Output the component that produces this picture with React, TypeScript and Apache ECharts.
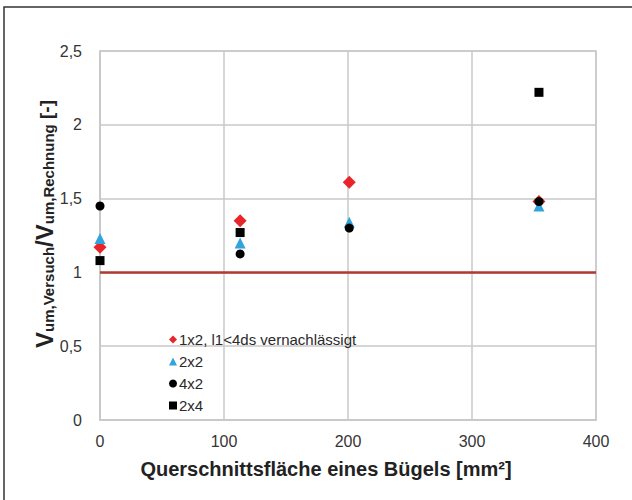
import React, { useEffect, useRef } from "react";
import * as echarts from "echarts";

const seriesNames = ["1x2, l1<4ds vernachlässigt", "2x2", "4x2", "2x4"];
const s1x2: number[][] = [[0, 1.17], [113, 1.35], [201, 1.61], [354, 1.48]];
const s2x2: number[][] = [[0, 1.23], [113, 1.2], [201, 1.34], [354, 1.45]];
const s4x2: number[][] = [[0, 1.45], [113, 1.125], [201, 1.3], [354, 1.48]];
const s2x4: number[][] = [[0, 1.08], [113, 1.27], [354, 2.22]];
const refValue = 1;

const FONT = "'Liberation Sans', Arial, sans-serif";

export default function App() {
  const ref = useRef<HTMLDivElement>(null);
  useEffect(() => {
    if (!ref.current) return;
    const chart = echarts.init(ref.current, undefined, { renderer: "svg" });
    const mk = (name: string, data: number[][], symbol: string, size: number, color: string) => ({
      name,
      type: "scatter",
      data,
      symbol,
      symbolSize: size,
      itemStyle: { color, opacity: 1 },
      z: 5,
    });
    chart.setOption({
      animation: false,
      backgroundColor: "#ffffff",
      textStyle: { fontFamily: FONT },
      grid: { left: 100, right: 36, top: 51, bottom: 80, show: true, borderColor: "#c8c8c8", borderWidth: 1.5 },
      xAxis: {
        type: "value",
        min: 0,
        max: 400,
        interval: 100,
        axisLine: { show: true, lineStyle: { color: "#c8c8c8", width: 1.5 } },
        axisTick: { show: false },
        splitLine: { show: true, lineStyle: { color: "#c8c8c8", width: 1.5 } },
        axisLabel: { color: "#353535", fontSize: 16, margin: 13, fontFamily: FONT },
        name: "Querschnittsfläche eines Bügels [mm²]",
        nameLocation: "middle",
        nameGap: 39,
        nameTextStyle: { color: "#222", fontSize: 20, fontWeight: "bold", fontFamily: FONT, padding: [0, 44, 0, 0] },
      },
      yAxis: {
        type: "value",
        min: 0,
        max: 2.5,
        interval: 0.5,
        axisLine: { show: true, lineStyle: { color: "#c8c8c8", width: 1.5 } },
        axisTick: { show: false },
        splitLine: { show: true, lineStyle: { color: "#c8c8c8", width: 1.5 } },
        axisLabel: {
          color: "#353535",
          fontSize: 16,
          margin: 18,
          fontFamily: FONT,
          formatter: (v: number) => String(v).replace(".", ","),
        },
      },
      legend: {
        orient: "vertical",
        left: 164,
        top: 327,
        itemGap: 7,
        itemWidth: 8,
        itemHeight: 8,
        data: [
          { name: seriesNames[0], icon: "diamond" },
          { name: seriesNames[1], icon: "triangle" },
          { name: seriesNames[2], icon: "circle" },
          { name: seriesNames[3], icon: "rect" },
        ],
        textStyle: { color: "#2a2a2a", fontSize: 15, lineHeight: 15, fontFamily: FONT, padding: [0, 0, 0, -3] },
      },
      graphic: [
        {
          type: "rect",
          shape: { x: 4, y: 7, width: 700, height: 600 },
          style: { fill: "none", stroke: "#333", lineWidth: 1.5 },
          silent: true,
        },
        {
          type: "text",
          x: 41,
          y: 224,
          rotation: Math.PI / 2,
          style: {
            text: "{b|V}{s|um,Versuch}{b|/V}{s|um,Rechnung}{m| [-]}",
            align: "center",
            verticalAlign: "middle",
            fill: "#222",
            rich: {
              b: { fontSize: 24, fontWeight: "bold", fontFamily: FONT, fill: "#222", lineHeight: 30, verticalAlign: "bottom" },
              s: { fontSize: 15, fontWeight: "bold", fontFamily: FONT, fill: "#222", lineHeight: 12, verticalAlign: "bottom" },
              m: { fontSize: 19, fontWeight: "bold", fontFamily: FONT, fill: "#222", lineHeight: 30, verticalAlign: "bottom" },
            },
          },
        },
      ],
      series: [
        {
          ...mk(seriesNames[0], s1x2, "diamond", 13, "#e8252a"),
          markLine: {
            silent: true,
            symbol: "none",
            label: { show: false },
            lineStyle: { color: "#b23a33", width: 2.5, type: "solid" },
            data: [{ yAxis: refValue }],
          },
        },
        mk(seriesNames[1], s2x2, "triangle", 11, "#31a4dc"),
        mk(seriesNames[2], s4x2, "circle", 9, "#000000"),
        mk(seriesNames[3], s2x4, "rect", 9, "#000000"),
      ],
    });
    return () => chart.dispose();
  }, []);
  return <div ref={ref} style={{ position: "absolute", left: 0, top: 0, width: 632, height: 500 }} />;
}
